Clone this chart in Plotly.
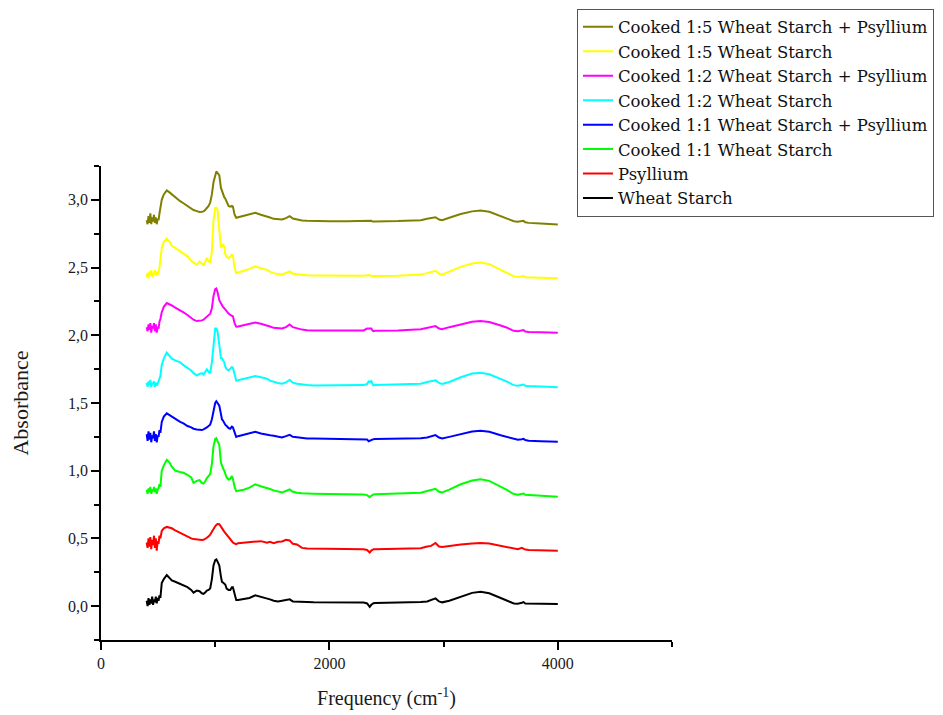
import plotly.graph_objects as go

# Frequency grid (cm-1) shared by all spectra
FREQ = [400, 408, 416, 424, 432, 440, 448, 456, 464, 472, 480, 488, 496, 504, 512, 520,
        532, 550, 576, 600, 620, 650, 693, 722, 757, 790,
        810, 839, 863, 883, 898, 912, 927, 942, 956, 971,
        985, 1000, 1010, 1020, 1036, 1050, 1059, 1068, 1079, 1088,
        1100, 1117, 1132, 1146, 1155, 1170, 1184, 1200, 1249, 1300,
        1351, 1400, 1453, 1480, 1512, 1550, 1585, 1620, 1652, 1680,
        1716, 1760, 1804, 1862, 2000, 2150, 2300, 2330, 2344, 2353,
        2367, 2378, 2386, 2400, 2600, 2800, 2856, 2890, 2929, 2960,
        2987, 3050, 3150, 3250, 3324, 3400, 3500, 3550, 3600, 3616,
        3650, 3685, 3700, 3715, 3745, 3850, 4000]

wheat_starch = [0.04, 0.00, 0.06, 0.01, 0.05, 0.02, 0.07, 0.01, 0.05, 0.03, 0.07, 0.02, 0.06, 0.04, 0.08, 0.06,
                0.17, 0.20, 0.23, 0.21, 0.19, 0.18, 0.165, 0.155, 0.14, 0.12,
                0.10, 0.115, 0.11, 0.095, 0.09, 0.10, 0.115, 0.12, 0.13, 0.20,
                0.30, 0.34, 0.345, 0.33, 0.30, 0.22, 0.18, 0.175, 0.165, 0.16,
                0.13, 0.12, 0.12, 0.14, 0.14, 0.08, 0.045, 0.045, 0.05, 0.06,
                0.08, 0.07, 0.06, 0.05, 0.04, 0.035, 0.04, 0.045, 0.05, 0.035,
                0.035, 0.03, 0.03, 0.028, 0.027, 0.027, 0.027, 0.02, 0.005, -0.005,
                0.01, 0.02, 0.022, 0.023, 0.025, 0.03, 0.035, 0.045, 0.057, 0.035,
                0.028, 0.04, 0.07, 0.098, 0.106, 0.095, 0.06, 0.04, 0.025, 0.02,
                0.018, 0.025, 0.03, 0.02, 0.02, 0.02, 0.015]

psyllium = [0.47, 0.43, 0.50, 0.44, 0.51, 0.42, 0.49, 0.45, 0.52, 0.43, 0.50, 0.41, 0.48, 0.46, 0.52, 0.50,
            0.555, 0.575, 0.585, 0.58, 0.575, 0.56, 0.54, 0.527, 0.51, 0.50,
            0.495, 0.49, 0.488, 0.488, 0.49, 0.495, 0.505, 0.515, 0.527, 0.55,
            0.575, 0.59, 0.60, 0.607, 0.605, 0.59, 0.58, 0.565, 0.55, 0.54,
            0.525, 0.51, 0.495, 0.48, 0.47, 0.462, 0.458, 0.465, 0.47, 0.47,
            0.475, 0.48, 0.468, 0.475, 0.465, 0.475, 0.478, 0.49, 0.485, 0.46,
            0.455, 0.43, 0.425, 0.425, 0.425, 0.423, 0.42, 0.415, 0.40, 0.396,
            0.41, 0.42, 0.42, 0.42, 0.422, 0.428, 0.44, 0.445, 0.466, 0.44,
            0.436, 0.445, 0.455, 0.463, 0.466, 0.462, 0.445, 0.435, 0.425, 0.423,
            0.42, 0.43, 0.425, 0.418, 0.415, 0.412, 0.409]

cooked_11 = [0.86, 0.83, 0.87, 0.84, 0.88, 0.83, 0.86, 0.85, 0.88, 0.84, 0.87, 0.83, 0.86, 0.87, 0.90, 0.88,
             1.00, 1.04, 1.08, 1.06, 1.03, 1.00, 0.99, 0.985, 0.97, 0.95,
             0.91, 0.925, 0.93, 0.91, 0.905, 0.92, 0.945, 0.96, 0.975, 1.05,
             1.18, 1.235, 1.24, 1.22, 1.19, 1.06, 1.035, 1.02, 1.00, 0.97,
             0.95, 0.935, 0.94, 0.96, 0.94, 0.88, 0.85, 0.852, 0.86, 0.875,
             0.90, 0.885, 0.875, 0.865, 0.855, 0.848, 0.84, 0.85, 0.862, 0.845,
             0.837, 0.833, 0.83, 0.83, 0.828, 0.827, 0.825, 0.82, 0.81, 0.805,
             0.815, 0.822, 0.825, 0.826, 0.83, 0.838, 0.85, 0.856, 0.867, 0.845,
             0.84, 0.86, 0.90, 0.928, 0.936, 0.925, 0.885, 0.86, 0.835, 0.828,
             0.822, 0.828, 0.832, 0.822, 0.82, 0.815, 0.808]

cooked_11_p = [1.27, 1.22, 1.29, 1.23, 1.28, 1.21, 1.26, 1.24, 1.29, 1.22, 1.27, 1.21, 1.26, 1.25, 1.30, 1.28,
               1.36, 1.40, 1.424, 1.41, 1.40, 1.38, 1.36, 1.35, 1.33, 1.32,
               1.31, 1.305, 1.30, 1.30, 1.305, 1.31, 1.32, 1.33, 1.34, 1.38,
               1.45, 1.50, 1.513, 1.50, 1.48, 1.42, 1.38, 1.37, 1.35, 1.34,
               1.33, 1.315, 1.31, 1.325, 1.32, 1.28, 1.25, 1.255, 1.265, 1.275,
               1.288, 1.275, 1.27, 1.262, 1.258, 1.25, 1.245, 1.255, 1.265, 1.25,
               1.245, 1.24, 1.238, 1.238, 1.236, 1.235, 1.233, 1.23, 1.218, 1.222,
               1.228, 1.232, 1.233, 1.234, 1.236, 1.24, 1.246, 1.252, 1.263, 1.245,
               1.238, 1.25, 1.272, 1.29, 1.295, 1.288, 1.262, 1.25, 1.236, 1.232,
               1.228, 1.232, 1.235, 1.226, 1.222, 1.218, 1.213]

cooked_12 = [1.65, 1.62, 1.66, 1.63, 1.67, 1.62, 1.65, 1.64, 1.66, 1.62, 1.65, 1.63, 1.64, 1.66, 1.68, 1.70,
             1.78, 1.83, 1.872, 1.845, 1.828, 1.815, 1.80, 1.78, 1.758, 1.74,
             1.72, 1.704, 1.715, 1.72, 1.71, 1.73, 1.748, 1.73, 1.72, 1.80,
             1.95, 2.05, 2.05, 2.03, 1.93, 1.83, 1.83, 1.82, 1.80, 1.77,
             1.75, 1.74, 1.75, 1.765, 1.76, 1.70, 1.666, 1.668, 1.68, 1.69,
             1.70, 1.69, 1.68, 1.665, 1.655, 1.648, 1.642, 1.652, 1.67, 1.65,
             1.642, 1.636, 1.633, 1.63, 1.63, 1.63, 1.632, 1.64, 1.66, 1.655,
             1.662, 1.64, 1.63, 1.632, 1.635, 1.642, 1.655, 1.66, 1.667, 1.648,
             1.64, 1.655, 1.69, 1.718, 1.724, 1.712, 1.678, 1.66, 1.638, 1.632,
             1.628, 1.632, 1.637, 1.628, 1.625, 1.622, 1.617]

cooked_12_p = [2.06, 2.03, 2.08, 2.04, 2.09, 2.02, 2.07, 2.05, 2.09, 2.03, 2.08, 2.02, 2.06, 2.05, 2.10, 2.12,
               2.17, 2.21, 2.238, 2.23, 2.22, 2.205, 2.187, 2.17, 2.15, 2.13,
               2.115, 2.105, 2.105, 2.11, 2.115, 2.125, 2.135, 2.145, 2.16, 2.20,
               2.29, 2.34, 2.345, 2.32, 2.26, 2.236, 2.22, 2.21, 2.20, 2.19,
               2.175, 2.16, 2.15, 2.145, 2.14, 2.09, 2.063, 2.065, 2.075, 2.085,
               2.095, 2.085, 2.075, 2.065, 2.055, 2.052, 2.05, 2.06, 2.08, 2.06,
               2.05, 2.042, 2.038, 2.035, 2.035, 2.036, 2.036, 2.05, 2.05, 2.048,
               2.05, 2.035, 2.03, 2.033, 2.036, 2.045, 2.055, 2.06, 2.068, 2.05,
               2.045, 2.06, 2.08, 2.10, 2.105, 2.098, 2.072, 2.058, 2.038, 2.033,
               2.03, 2.035, 2.038, 2.028, 2.025, 2.022, 2.018]

cooked_15 = [2.43, 2.46, 2.42, 2.47, 2.44, 2.48, 2.43, 2.46, 2.45, 2.48, 2.44, 2.47, 2.45, 2.46, 2.50, 2.55,
             2.645, 2.69, 2.714, 2.69, 2.66, 2.645, 2.62, 2.60, 2.583, 2.55,
             2.535, 2.52, 2.545, 2.53, 2.518, 2.54, 2.57, 2.55, 2.535, 2.62,
             2.85, 2.94, 2.942, 2.93, 2.80, 2.645, 2.66, 2.67, 2.66, 2.60,
             2.58, 2.57, 2.58, 2.595, 2.59, 2.50, 2.459, 2.462, 2.476, 2.49,
             2.51, 2.495, 2.483, 2.47, 2.459, 2.452, 2.447, 2.46, 2.472, 2.455,
             2.45, 2.445, 2.443, 2.442, 2.44, 2.44, 2.44, 2.443, 2.445, 2.44,
             2.442, 2.437, 2.436, 2.438, 2.44, 2.448, 2.459, 2.465, 2.476, 2.455,
             2.447, 2.47, 2.505, 2.53, 2.538, 2.525, 2.485, 2.462, 2.44, 2.435,
             2.43, 2.435, 2.438, 2.428, 2.426, 2.424, 2.422]

cooked_15_p = [2.85, 2.82, 2.88, 2.83, 2.90, 2.82, 2.87, 2.84, 2.89, 2.83, 2.87, 2.82, 2.86, 2.85, 2.90, 2.93,
               3.00, 3.04, 3.07, 3.055, 3.04, 3.02, 2.99, 2.975, 2.955, 2.935,
               2.925, 2.917, 2.91, 2.912, 2.915, 2.925, 2.94, 2.955, 2.98, 3.04,
               3.13, 3.19, 3.21, 3.20, 3.18, 3.09, 3.066, 3.04, 3.02, 3.01,
               2.985, 2.955, 2.95, 2.955, 2.95, 2.89, 2.868, 2.872, 2.88, 2.893,
               2.905, 2.89, 2.88, 2.87, 2.86, 2.857, 2.855, 2.865, 2.88, 2.862,
               2.855, 2.848, 2.845, 2.843, 2.842, 2.842, 2.843, 2.847, 2.845, 2.843,
               2.846, 2.84, 2.839, 2.84, 2.843, 2.85, 2.86, 2.865, 2.872, 2.855,
               2.85, 2.868, 2.895, 2.915, 2.922, 2.912, 2.88, 2.862, 2.845, 2.842,
               2.838, 2.842, 2.845, 2.835, 2.83, 2.825, 2.818]

SERIES_NAMES = ["Wheat Starch", "Psyllium", "Cooked 1:1 Wheat Starch",
                "Cooked 1:1 Wheat Starch + Psyllium", "Cooked 1:2 Wheat Starch",
                "Cooked 1:2 Wheat Starch + Psyllium", "Cooked 1:5 Wheat Starch",
                "Cooked 1:5 Wheat Starch + Psyllium"]
SERIES_VALUES = [wheat_starch, psyllium, cooked_11, cooked_11_p,
                 cooked_12, cooked_12_p, cooked_15, cooked_15_p]
COLORS = ["#000000", "#FF0000", "#00FF00", "#0000FF",
          "#00FFFF", "#FF00FF", "#FFFF00", "#808000"]

X_TICKS = [0, 2000, 4000]
Y_TICKS = [0.0, 0.5, 1.0, 1.5, 2.0, 2.5, 3.0]

for v in SERIES_VALUES:
    assert len(v) == len(FREQ), len(v)

SERIF = "Times New Roman, Liberation Serif, serif"
LEGEND_FONT = "DejaVu Serif, Times New Roman, serif"

fig = go.Figure()
for name, vals, col in zip(SERIES_NAMES, SERIES_VALUES, COLORS):
    fig.add_trace(go.Scatter(x=FREQ, y=vals, mode="lines", name=name,
                             line=dict(color=col, width=2)))

# page body has an 8px default margin, so the figure is sized to fit the window
fig.update_layout(
    width=935, height=707,
    margin=dict(l=93, r=271, t=158, b=75, autoexpand=False),
    paper_bgcolor="white", plot_bgcolor="white",
    separators=", ",
    font=dict(family=SERIF, color="#1a1a1a"),
    showlegend=True,
    legend=dict(
        x=0.8336, y=1.332, xanchor="left", yanchor="top",
        traceorder="reversed",
        font=dict(family=LEGEND_FONT, size=16.5, color="#111111"),
        bgcolor="white", bordercolor="#555555", borderwidth=1,
        tracegroupgap=0, itemwidth=30,
    ),
    xaxis=dict(
        range=[0, 5000], tickvals=X_TICKS, tickformat="d",
        showline=True, linecolor="black", linewidth=1.5,
        ticks="outside", ticklen=8, tickwidth=1.5, tickcolor="black",
        minor=dict(dtick=1000, tick0=0, ticks="outside", ticklen=5,
                   tickwidth=1.5, tickcolor="black"),
        showgrid=False, zeroline=False,
        tickfont=dict(family=SERIF, size=16, color="#1a1a1a"),
        title=dict(text="Frequency (cm<sup>-1</sup>)",
                   font=dict(family=SERIF, size=20, color="#1a1a1a"),
                   standoff=20),
    ),
    yaxis=dict(
        range=[-0.25, 3.25], tickvals=Y_TICKS, tickformat=".1f",
        showline=True, linecolor="black", linewidth=1.5,
        ticks="outside", ticklen=8, tickwidth=1.5, tickcolor="black",
        minor=dict(dtick=0.25, tick0=-0.25, ticks="outside", ticklen=5,
                   tickwidth=1.5, tickcolor="black"),
        showgrid=False, zeroline=False,
        tickfont=dict(family=SERIF, size=16, color="#1a1a1a"),
        title=dict(text="Absorbance",
                   font=dict(family=SERIF, size=22, color="#1a1a1a"),
                   standoff=36),
    ),
)

fig.write_html("out.html")
